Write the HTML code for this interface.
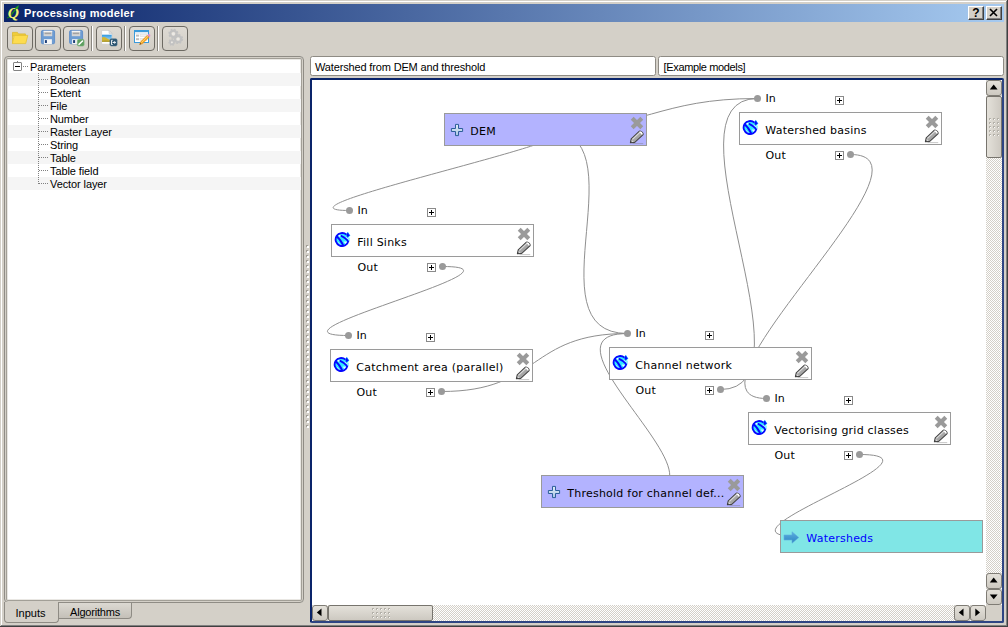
<!DOCTYPE html>
<html>
<head>
<meta charset="utf-8">
<title>Processing modeler</title>
<style>
html,body{margin:0;padding:0;}
body{width:1008px;height:627px;overflow:hidden;background:#d4d0c8;font-family:"Liberation Sans",sans-serif;font-size:11px;color:#000;}
.win{position:absolute;left:0;top:0;width:1008px;height:627px;background:#d4d0c8;overflow:hidden;}
.win div,.win span,.win i,.win b,.win svg{position:absolute;box-sizing:border-box;}
.fr-t{left:1px;top:1px;width:1005px;height:1px;background:#fff;}
.fr-l{left:1px;top:1px;width:1px;height:624px;background:#fff;}
.fr-r1{left:1006px;top:1px;width:1px;height:625px;background:#808080;}
.fr-r2{left:1007px;top:0;width:1px;height:627px;background:#404040;}
.fr-b1{left:1px;top:625px;width:1006px;height:1px;background:#808080;}
.fr-b2{left:0;top:626px;width:1008px;height:1px;background:#404040;}
.title{left:4px;top:4px;width:1000px;height:18px;background:linear-gradient(to right,#0a246a,#a6caf0);}
.qicon{left:2px;top:0;}
.ttext{left:20px;top:2px;letter-spacing:.3px;color:#fff;font-weight:bold;font-size:11px;line-height:14px;white-space:nowrap;}
.tbtn{top:2px;width:16px;height:14px;background:#d4d0c8;border:1px solid;border-color:#fff #404040 #404040 #fff;box-shadow:inset -1px -1px 0 #808080;}
.tbtn span{left:0.5px;top:0px;width:13px;text-align:center;font-weight:bold;font-size:12px;line-height:13px;}
.tbtn svg{left:-1px;top:-1px;}
.tb{top:26px;width:26px;height:25px;border:1px solid #6d6a63;border-radius:4px;background:linear-gradient(#dedad3,#d3cfc7);}
.tb svg{left:-1px;top:-1px;}
.sep{top:26px;width:2px;height:25px;border-left:1px solid #8a8780;border-right:1px solid #fff;}
.tbline{left:4px;top:56px;width:0;height:0;}
.tree{left:4px;top:56px;width:300px;height:547px;background:#fff;border:1px solid #8f8c85;border-radius:4px;box-shadow:inset 0 0 0 1px #d4d0c8, inset 0 0 0 2px #a29f97, inset 0 0 0 3px #e9e7e3;overflow:hidden;}
.row{left:3px;width:293px;height:13px;}
.row.alt{background:#f5f5f5;}
.rt{letter-spacing:-.1px;top:1px;line-height:13px;white-space:nowrap;font-size:11px;}
.exp{left:5px;top:2px;width:9px;height:9px;border:1px solid #848484;background:#fff;border-radius:1px;}
.exp:after{content:"";position:absolute;left:1px;top:3px;width:5px;height:1px;background:#000;}
.field{top:56px;height:20px;background:#fff;border:1px solid #8e8b84;border-radius:2.5px;line-height:19px;padding-top:1px;padding-left:4px;letter-spacing:-.15px;white-space:nowrap;font-size:11px;}
.f1{left:310px;width:346px;}
.f2{left:658px;width:346px;letter-spacing:-.36px;padding-left:4.6px;}
.canvas{left:310px;top:78px;width:694px;height:545px;background:#fff;border:2px solid;border-color:#0a246a #2e4583 #2e4583 #0a246a;border-radius:2px;}
.view{left:0;top:0;width:674px;height:525px;overflow:hidden;background:#fff;}
.links{left:0;top:0;}
.links path{fill:none;stroke:#8f8f8f;stroke-width:1;}
.node{width:203px;height:33px;font-family:"DejaVu Sans","Liberation Sans",sans-serif;font-size:11px;letter-spacing:.2px;}
.box{left:0;top:0;width:203px;height:33px;border:1px solid #9a9a9a;background:#fff;}
.param .box{background:#b3b3ff;}
.out .box{background:#80e6e6;}
.t{left:25.3px;top:11px;letter-spacing:.23px;line-height:14px;white-space:nowrap;}
.out .t{color:#0000ff;}
.lab{left:26.4px;line-height:14px;white-space:nowrap;}
.lab.in{top:-20px;}
.lab.out{top:36.5px;}
.pb{left:96px;width:9px;height:9px;border:1px solid #8a8a8a;background:#fff;}
.pb:before{content:"";position:absolute;left:1px;top:3px;width:5px;height:1px;background:#000;}
.pb:after{content:"";position:absolute;left:3px;top:1px;width:1px;height:5px;background:#000;}
.pin{top:-16px;}
.pout{top:39px;}
.dot{width:7px;height:7px;border-radius:50%;background:#9a9a9a;}
.din{left:15px;top:-17px;}
.dout{left:108px;top:39px;}
.ic{left:5px;top:9px;}
.is{left:2px;top:6px;}
.ia{left:2.4px;top:9.6px;}
.ix{left:185px;top:2px;}
.ip{left:184px;top:15px;}
.vsb{left:674px;top:0;width:16px;height:525px;background:#e9e7e3;background-image:conic-gradient(#fff 25%,#d4d0c8 0 50%,#fff 0 75%,#d4d0c8 0);background-size:2px 2px;}
.hsb{left:0;top:525px;width:674px;height:16px;background:#e9e7e3;background-image:conic-gradient(#fff 25%,#d4d0c8 0 50%,#fff 0 75%,#d4d0c8 0);background-size:2px 2px;}
.corner{left:674px;top:525px;width:16px;height:16px;background:#d4d0c8;}
.sbtn{width:16px;height:16px;border:1px solid #7f7c75;border-radius:3px;background:linear-gradient(#e4e1da,#cdc9c1);}
.hsb .sbtn{top:0;background:linear-gradient(#e4e1da,#cdc9c1);}
.vsb .sbtn{left:0;}
.vthumb{left:0;top:16px;width:16px;height:62px;border:1px solid #77746d;border-radius:2px;background:linear-gradient(to right,#e4e1da,#cdc9c1);}
.hthumb{left:16px;top:0;width:105px;height:16px;border:1px solid #77746d;border-radius:2px;background:linear-gradient(#e4e1da,#cdc9c1);}
.vthumb .grip{left:2px;top:21px;}
.hthumb .grip{left:43px;top:2px;}
.arw{left:-1px;top:-1px;}
.au{left:3.5px;top:4.5px;width:0;height:0;border:3.5px solid transparent;border-top:0;border-bottom:4px solid #000;}
.ad{left:3.5px;top:5.5px;width:0;height:0;border:3.5px solid transparent;border-bottom:0;border-top:4px solid #000;}
.al{left:4.5px;top:3.5px;width:0;height:0;border:3.5px solid transparent;border-left:0;border-right:4px solid #000;}
.ar{left:5.5px;top:3.5px;width:0;height:0;border:3.5px solid transparent;border-right:0;border-left:4px solid #000;}
.tab{font-size:11px;white-space:nowrap;text-align:center;}
.tab1{left:4px;top:602px;width:55px;height:21px;line-height:23px;padding-right:2px;border:1px solid #8e8b84;border-top:0;border-radius:0 0 4px 4px;background:#d4d0c8;}
.tab2{left:58px;top:603px;width:74px;height:16px;line-height:18px;letter-spacing:-.2px;border:1px solid #8e8b84;border-top:0;border-radius:0 0 4px 0;background:linear-gradient(#dcd9d2,#c4c0b8);}
.split{left:306px;top:245px;width:4px;height:185px;}
.split i{width:2px;height:185px;}
.split .sg{left:0;top:0;background:repeating-linear-gradient(to bottom,#a29f97 0,#a29f97 2px,transparent 2px,transparent 5px);}
.split .sw{left:1px;top:1px;height:184px;background:repeating-linear-gradient(to bottom,#fff 0,#fff 2px,transparent 2px,transparent 5px);}
.dl1{left:15px;top:6px;width:6px;height:1px;background:repeating-linear-gradient(to right,#808080 0,#808080 1px,transparent 1px,transparent 2px);}
.dl2{left:31px;top:6px;width:10px;height:1px;background:repeating-linear-gradient(to right,#808080 0,#808080 1px,transparent 1px,transparent 2px);}
.vdl{left:33px;top:16px;width:1px;height:111px;background:repeating-linear-gradient(to bottom,#808080 0,#808080 1px,transparent 1px,transparent 2px);}
.exp:before{content:"";position:absolute;left:3px;top:-2px;width:1px;height:1px;background:#808080;}
</style>
</head>

<body>
<div class="win">
<div class="fr-t"></div><div class="fr-l"></div><div class="fr-r1"></div><div class="fr-r2"></div><div class="fr-b1"></div><div class="fr-b2"></div>
<div class="title"><svg class="qicon" width="16" height="18" viewBox="0 0 16 18"><path d="M1 13.9 L3.6 13 L10.8 3.6" stroke="#1c7a1c" stroke-width="1.1" fill="none"/><text x="1.8" y="13.8" font-family="Liberation Serif, serif" font-weight="bold" font-style="italic" font-size="15.5" fill="#f2f274">Q</text><path d="M5.2 10.6 L10.8 3.6" stroke="#1c8a1c" stroke-width="1.2" fill="none"/><path d="M9.2 3.8 L12.8 1 L12 5 Z" fill="#22a022"/></svg><span class="ttext">Processing modeler</span>
<div class="tbtn" style="left:964px"><span>?</span></div><div class="tbtn" style="left:982px"><svg width="16" height="14" viewBox="0 0 16 14"><path d="M4 3 L11 10 M11 3 L4 10" stroke="#000" stroke-width="1.6"/></svg></div>
</div>
<div class="tb" style="left:7px"><svg width="26" height="25" viewBox="0 0 26 25"><path d="M5.5 17.5 V6.4 H10.4 L11.4 7.9 H18.4 V10 H5.5" fill="#f0cd3c" stroke="#dcb930" stroke-width=".8"/><path d="M7.2 9.4 H20.8 L18.7 17.6 H5.4 Z" fill="#fddc4e" stroke="#e3c136" stroke-width=".8" stroke-linejoin="round"/></svg></div>
<div class="tb" style="left:35px"><svg width="26" height="25" viewBox="0 0 26 25"><rect x="6.4" y="4.4" width="13.2" height="13.4" rx="1.4" fill="#6e9dd3" stroke="#5b8bc7" stroke-width=".9"/><rect x="8.6" y="4.9" width="8.6" height="5.3" fill="#d6d6d6"/><rect x="8.6" y="4.9" width="8.6" height="1.2" fill="#f4f4f4"/><rect x="9.6" y="6.6" width="6.6" height="1.6" fill="#a3a3a3"/><rect x="8.9" y="13.2" width="8" height="4.8" fill="#f6f6f6"/><rect x="9.9" y="14.1" width="2" height="2.9" fill="#1d3f78"/><rect x="8.2" y="18" width="9.6" height=".8" fill="#c2c8d2" opacity=".7"/></svg></div>
<div class="tb" style="left:63px"><svg width="26" height="25" viewBox="0 0 26 25"><rect x="6.6" y="4.4" width="13" height="13.4" rx="1.4" fill="#6e9dd3" stroke="#5b8bc7" stroke-width=".9"/><rect x="8.8" y="4.9" width="8.4" height="5.3" fill="#d6d6d6"/><rect x="8.8" y="4.9" width="8.4" height="1.2" fill="#f4f4f4"/><rect x="9.8" y="6.6" width="6.4" height="1.6" fill="#a3a3a3"/><rect x="9.1" y="13.2" width="7.8" height="4.8" fill="#f6f6f6"/><rect x="10.1" y="14.1" width="2" height="2.9" fill="#1d3f78"/><rect x="14.3" y="13.3" width="6.8" height="6.8" rx="1.5" fill="#5d9f5f" stroke="#7fb581" stroke-width=".6"/><path d="M16 18.4 L19.5 15" stroke="#fff" stroke-width="1.5" stroke-linecap="round"/></svg></div>
<div class="sep" style="left:91px"></div>
<div class="tb" style="left:96px"><svg width="26" height="25" viewBox="0 0 26 25"><defs><linearGradient id="sky" x1="0" y1="0" x2="0" y2="1"><stop offset="0" stop-color="#2f97df"/><stop offset="1" stop-color="#c9e8f8"/></linearGradient></defs><path d="M5.6 4.4 H13 L16 7.4 V18.2 H5.6 Z" fill="#fdfdfd" stroke="#c9c9c9" stroke-width=".7"/><path d="M13 4.4 V7.4 H16 Z" fill="#e2e2e2" stroke="#bdbdbd" stroke-width=".5"/><rect x="6" y="8.7" width="9.7" height="7" fill="url(#sky)"/><path d="M6 15.7 V11.6 Q8.2 10.4 10.4 12 Q13 14 15.7 14.2 V15.7 Z" fill="#d2b634"/><path d="M6 15.7 V14.8 Q10 14 15.7 15.2 V15.7 Z" fill="#a8952c"/><rect x="13.9" y="12.8" width="7.2" height="7.2" rx="1.4" fill="#2c5571" stroke="#4d728b" stroke-width=".5"/><path d="M16.7 14.3 H15.5 V18.5 H16.7" fill="none" stroke="#fff" stroke-width=".9"/><path d="M16.6 16.4 H18.6" stroke="#fff" stroke-width="1.1"/><path d="M18.3 14.8 L20.1 16.4 L18.3 18 Z" fill="#fff"/></svg></div>
<div class="sep" style="left:124px"></div>
<div class="tb" style="left:129px"><svg width="26" height="25" viewBox="0 0 26 25"><rect x="5.5" y="4.5" width="14" height="12" fill="#fff" stroke="#3b9bdb" stroke-width="1"/><rect x="5" y="4" width="15" height="2.2" fill="#3b9bdb"/><rect x="6" y="6.2" width="13" height="1.6" fill="#dfeaf3"/><rect x="7" y="8.6" width="3" height="2" fill="#bdbdbd"/><rect x="11" y="8.6" width="7" height="2" fill="#f0f0f0" stroke="#d0d0d0" stroke-width=".4"/><rect x="7" y="12.2" width="3" height="2" fill="#bdbdbd"/><rect x="11" y="12.2" width="7" height="2" fill="#f0f0f0" stroke="#d0d0d0" stroke-width=".4"/><path d="M10.6 18.6 L11.6 15.8 L18.4 9.2 L20.3 11.1 L13.4 17.8 Z" fill="#f6a623" stroke="#d98a12" stroke-width=".5"/><path d="M12.4 16.6 L19 10.2" stroke="#ffd27a" stroke-width=".9"/><path d="M18.4 9.2 L19.4 8.3 Q20.4 7.8 21 8.6 Q21.7 9.4 21.2 10.2 L20.3 11.1 Z" fill="#e78fd0"/><path d="M10.6 18.6 L11.2 16.9 L12.3 18 Z" fill="#4a3a2a"/></svg></div>
<div class="sep" style="left:157px"></div>
<div class="tb" style="left:162px"><svg width="26" height="25" viewBox="0 0 26 25"><g fill="none" stroke="#c2c2c2"><circle cx="11.4" cy="7.8" r="3.2" stroke-width="2.2"/><circle cx="11.4" cy="7.8" r="4.3" stroke-width="1.6" stroke-dasharray="1.7 1.68"/><circle cx="16.1" cy="13" r="3.2" stroke-width="2.2"/><circle cx="16.1" cy="13" r="4.3" stroke-width="1.6" stroke-dasharray="1.7 1.68"/><circle cx="9.9" cy="16.3" r="2" stroke-width="1.8"/><circle cx="9.9" cy="16.3" r="2.9" stroke-width="1.3" stroke-dasharray="1.3 1.3"/></g><g fill="#eceae6"><circle cx="11.4" cy="7.8" r="1.6"/><circle cx="16.1" cy="13" r="1.6"/><circle cx="9.9" cy="16.3" r=".9"/></g></svg></div>

<div class="tbline"></div>
<div class="tree">
<div class="row r0" style="top:3px"><i class="exp"></i><span class="dl1"></span><span class="rt" style="left:22px">Parameters</span></div>
<div class="row alt" style="top:16px"><span class="dl2"></span><span class="rt" style="left:42px">Boolean</span></div>
<div class="row " style="top:29px"><span class="dl2"></span><span class="rt" style="left:42px">Extent</span></div>
<div class="row alt" style="top:42px"><span class="dl2"></span><span class="rt" style="left:42px">File</span></div>
<div class="row " style="top:55px"><span class="dl2"></span><span class="rt" style="left:42px">Number</span></div>
<div class="row alt" style="top:68px"><span class="dl2"></span><span class="rt" style="left:42px">Raster Layer</span></div>
<div class="row " style="top:81px"><span class="dl2"></span><span class="rt" style="left:42px">String</span></div>
<div class="row alt" style="top:94px"><span class="dl2"></span><span class="rt" style="left:42px">Table</span></div>
<div class="row " style="top:107px"><span class="dl2"></span><span class="rt" style="left:42px">Table field</span></div>
<div class="row alt" style="top:120px"><span class="dl2"></span><span class="rt" style="left:42px">Vector layer</span></div>

<span class="vdl"></span>
</div>
<div class="tab tab1">Inputs</div><div class="tab tab2">Algorithms</div>
<div class="split"><i class="sg"></i><i class="sw"></i></div>
<div class="field f1">Watershed from DEM and threshold</div>
<div class="field f2">[Example models]</div>
<div class="canvas">
<div class="view">
<svg class="links" width="690" height="541" viewBox="312 80 690 541"><path d="M545.5 129.5 C645.5 129.5 249.5 210.5 349.5 210.5"/><path d="M545.5 129.5 C645.5 129.5 527.5 333.5 627.5 333.5"/><path d="M545.5 129.5 C645.5 129.5 657.5 98.5 757.5 98.5"/><path d="M442.5 266.5 C542.5 266.5 248.5 335.5 348.5 335.5"/><path d="M441.5 391.5 C541.5 391.5 527.5 333.5 627.5 333.5"/><path d="M642.5 491.5 C742.5 491.5 527.5 333.5 627.5 333.5"/><path d="M720.5 389.5 C820.5 389.5 657.5 98.5 757.5 98.5"/><path d="M850.5 154.5 C950.5 154.5 666.5 398.5 766.5 398.5"/><path d="M859.5 454.5 C959.5 454.5 698.5 536.5 798.5 536.5"/></svg>
<div class="node param" style="left:132px;top:33px"><div class="box"><svg class="ic" width="14" height="14" viewBox="0 0 14 14"><defs><linearGradient id="pg0" x1="0" y1="0" x2="0" y2="1"><stop offset="0" stop-color="#e4eef8"/><stop offset="1" stop-color="#a9c6e3"/></linearGradient></defs><path d="M5.5 1.4 H8.5 V5.5 H12.6 V8.5 H8.5 V12.6 H5.5 V8.5 H1.4 V5.5 H5.5 Z" fill="url(#pg0)" stroke="#2d5f9a" stroke-width="1" stroke-linejoin="round"/></svg><span class="t">DEM</span><svg class="ix" width="14" height="14" viewBox="0 0 14 14"><path d="M2.2 2.2 L11.8 11.8 M11.8 2.2 L2.2 11.8" stroke="#9a9a9a" stroke-width="4.1" fill="none"/></svg><svg class="ip" width="16" height="16" viewBox="0 0 16 16"><path d="M3.6 14.6 H14.2" stroke="#777" stroke-width="1" opacity=".4"/><path d="M1.4 13.8 L2.2 9.8 L10.4 2.2 C11.5 1.1 15 4.8 13.9 5.9 L5.7 13.4 Z" fill="#a6a6a6" stroke="#464646" stroke-width="1.1" stroke-linejoin="round"/><path d="M3.4 10.3 L10.9 3.4" stroke="#dedede" stroke-width="1.1"/><path d="M10.6 3 Q12.6 3 13.1 5.3" stroke="#fff" stroke-width="1.6" fill="none"/><path d="M2.7 10.9 L4.7 12.8 L2.3 13.3 Z" fill="#dcdcdc"/><path d="M1.4 13.8 L1.8 12.1 L3.1 13.4 Z" fill="#333"/></svg></div></div>
<div class="node alg" style="left:19px;top:144px"><span class="lab in">In</span><i class="pb pin"></i><b class="dot din"></b><div class="box"><svg class="is" width="18" height="18" viewBox="0 0 18 18"><defs><clipPath id="sg1"><circle cx="8.1" cy="8.5" r="6.4"/></clipPath></defs><circle cx="8.1" cy="8.5" r="7" fill="#30e8ff"/><path d="M13.4 5 L16 7 L15.4 10.4 L12.6 8.4 Z" fill="#8ff4ff"/><g clip-path="url(#sg1)"><path d="M3.4 4.4 L6.2 3.4 L6.6 6.2 Z M9.6 10.6 L13.2 10.8 L12 13.6 Z M3.6 10.4 L6.6 13.8 L5.2 14.4 Z M10.6 5.2 L13.4 7 L13 8.4 Z" fill="#fff" opacity=".9"/><g stroke="#0606ff" stroke-width="1.8" fill="none"><path d="M2 4.8 Q6.6 8.4 9.8 15.6"/><path d="M6.8 4.6 Q10.8 6.4 14.6 10.4"/></g></g><path d="M14.5 9.7 A6.5 6.5 0 1 1 12.5 3.7" fill="none" stroke="#0606ff" stroke-width="1.8"/><path d="M13.8 0.8 L16.4 4.7 L13.3 7.1 L11.9 3.2 Z" fill="#30e8ff"/><path d="M13.7 1.7 L15.6 4.5 L13.4 6.1 L12.5 3.4 Z" fill="#0606ff" stroke="#0606ff" stroke-width=".5" stroke-linejoin="round"/></svg><span class="t">Fill Sinks</span><svg class="ix" width="14" height="14" viewBox="0 0 14 14"><path d="M2.2 2.2 L11.8 11.8 M11.8 2.2 L2.2 11.8" stroke="#9a9a9a" stroke-width="4.1" fill="none"/></svg><svg class="ip" width="16" height="16" viewBox="0 0 16 16"><path d="M3.6 14.6 H14.2" stroke="#777" stroke-width="1" opacity=".4"/><path d="M1.4 13.8 L2.2 9.8 L10.4 2.2 C11.5 1.1 15 4.8 13.9 5.9 L5.7 13.4 Z" fill="#a6a6a6" stroke="#464646" stroke-width="1.1" stroke-linejoin="round"/><path d="M3.4 10.3 L10.9 3.4" stroke="#dedede" stroke-width="1.1"/><path d="M10.6 3 Q12.6 3 13.1 5.3" stroke="#fff" stroke-width="1.6" fill="none"/><path d="M2.7 10.9 L4.7 12.8 L2.3 13.3 Z" fill="#dcdcdc"/><path d="M1.4 13.8 L1.8 12.1 L3.1 13.4 Z" fill="#333"/></svg></div><span class="lab out">Out</span><i class="pb pout"></i><b class="dot dout"></b></div>
<div class="node alg" style="left:18px;top:269px"><span class="lab in">In</span><i class="pb pin"></i><b class="dot din"></b><div class="box"><svg class="is" width="18" height="18" viewBox="0 0 18 18"><defs><clipPath id="sg2"><circle cx="8.1" cy="8.5" r="6.4"/></clipPath></defs><circle cx="8.1" cy="8.5" r="7" fill="#30e8ff"/><path d="M13.4 5 L16 7 L15.4 10.4 L12.6 8.4 Z" fill="#8ff4ff"/><g clip-path="url(#sg2)"><path d="M3.4 4.4 L6.2 3.4 L6.6 6.2 Z M9.6 10.6 L13.2 10.8 L12 13.6 Z M3.6 10.4 L6.6 13.8 L5.2 14.4 Z M10.6 5.2 L13.4 7 L13 8.4 Z" fill="#fff" opacity=".9"/><g stroke="#0606ff" stroke-width="1.8" fill="none"><path d="M2 4.8 Q6.6 8.4 9.8 15.6"/><path d="M6.8 4.6 Q10.8 6.4 14.6 10.4"/></g></g><path d="M14.5 9.7 A6.5 6.5 0 1 1 12.5 3.7" fill="none" stroke="#0606ff" stroke-width="1.8"/><path d="M13.8 0.8 L16.4 4.7 L13.3 7.1 L11.9 3.2 Z" fill="#30e8ff"/><path d="M13.7 1.7 L15.6 4.5 L13.4 6.1 L12.5 3.4 Z" fill="#0606ff" stroke="#0606ff" stroke-width=".5" stroke-linejoin="round"/></svg><span class="t">Catchment area (parallel)</span><svg class="ix" width="14" height="14" viewBox="0 0 14 14"><path d="M2.2 2.2 L11.8 11.8 M11.8 2.2 L2.2 11.8" stroke="#9a9a9a" stroke-width="4.1" fill="none"/></svg><svg class="ip" width="16" height="16" viewBox="0 0 16 16"><path d="M3.6 14.6 H14.2" stroke="#777" stroke-width="1" opacity=".4"/><path d="M1.4 13.8 L2.2 9.8 L10.4 2.2 C11.5 1.1 15 4.8 13.9 5.9 L5.7 13.4 Z" fill="#a6a6a6" stroke="#464646" stroke-width="1.1" stroke-linejoin="round"/><path d="M3.4 10.3 L10.9 3.4" stroke="#dedede" stroke-width="1.1"/><path d="M10.6 3 Q12.6 3 13.1 5.3" stroke="#fff" stroke-width="1.6" fill="none"/><path d="M2.7 10.9 L4.7 12.8 L2.3 13.3 Z" fill="#dcdcdc"/><path d="M1.4 13.8 L1.8 12.1 L3.1 13.4 Z" fill="#333"/></svg></div><span class="lab out">Out</span><i class="pb pout"></i><b class="dot dout"></b></div>
<div class="node alg" style="left:297px;top:267px"><span class="lab in">In</span><i class="pb pin"></i><b class="dot din"></b><div class="box"><svg class="is" width="18" height="18" viewBox="0 0 18 18"><defs><clipPath id="sg3"><circle cx="8.1" cy="8.5" r="6.4"/></clipPath></defs><circle cx="8.1" cy="8.5" r="7" fill="#30e8ff"/><path d="M13.4 5 L16 7 L15.4 10.4 L12.6 8.4 Z" fill="#8ff4ff"/><g clip-path="url(#sg3)"><path d="M3.4 4.4 L6.2 3.4 L6.6 6.2 Z M9.6 10.6 L13.2 10.8 L12 13.6 Z M3.6 10.4 L6.6 13.8 L5.2 14.4 Z M10.6 5.2 L13.4 7 L13 8.4 Z" fill="#fff" opacity=".9"/><g stroke="#0606ff" stroke-width="1.8" fill="none"><path d="M2 4.8 Q6.6 8.4 9.8 15.6"/><path d="M6.8 4.6 Q10.8 6.4 14.6 10.4"/></g></g><path d="M14.5 9.7 A6.5 6.5 0 1 1 12.5 3.7" fill="none" stroke="#0606ff" stroke-width="1.8"/><path d="M13.8 0.8 L16.4 4.7 L13.3 7.1 L11.9 3.2 Z" fill="#30e8ff"/><path d="M13.7 1.7 L15.6 4.5 L13.4 6.1 L12.5 3.4 Z" fill="#0606ff" stroke="#0606ff" stroke-width=".5" stroke-linejoin="round"/></svg><span class="t">Channel network</span><svg class="ix" width="14" height="14" viewBox="0 0 14 14"><path d="M2.2 2.2 L11.8 11.8 M11.8 2.2 L2.2 11.8" stroke="#9a9a9a" stroke-width="4.1" fill="none"/></svg><svg class="ip" width="16" height="16" viewBox="0 0 16 16"><path d="M3.6 14.6 H14.2" stroke="#777" stroke-width="1" opacity=".4"/><path d="M1.4 13.8 L2.2 9.8 L10.4 2.2 C11.5 1.1 15 4.8 13.9 5.9 L5.7 13.4 Z" fill="#a6a6a6" stroke="#464646" stroke-width="1.1" stroke-linejoin="round"/><path d="M3.4 10.3 L10.9 3.4" stroke="#dedede" stroke-width="1.1"/><path d="M10.6 3 Q12.6 3 13.1 5.3" stroke="#fff" stroke-width="1.6" fill="none"/><path d="M2.7 10.9 L4.7 12.8 L2.3 13.3 Z" fill="#dcdcdc"/><path d="M1.4 13.8 L1.8 12.1 L3.1 13.4 Z" fill="#333"/></svg></div><span class="lab out">Out</span><i class="pb pout"></i><b class="dot dout"></b></div>
<div class="node alg" style="left:427px;top:32px"><span class="lab in">In</span><i class="pb pin"></i><b class="dot din"></b><div class="box"><svg class="is" width="18" height="18" viewBox="0 0 18 18"><defs><clipPath id="sg4"><circle cx="8.1" cy="8.5" r="6.4"/></clipPath></defs><circle cx="8.1" cy="8.5" r="7" fill="#30e8ff"/><path d="M13.4 5 L16 7 L15.4 10.4 L12.6 8.4 Z" fill="#8ff4ff"/><g clip-path="url(#sg4)"><path d="M3.4 4.4 L6.2 3.4 L6.6 6.2 Z M9.6 10.6 L13.2 10.8 L12 13.6 Z M3.6 10.4 L6.6 13.8 L5.2 14.4 Z M10.6 5.2 L13.4 7 L13 8.4 Z" fill="#fff" opacity=".9"/><g stroke="#0606ff" stroke-width="1.8" fill="none"><path d="M2 4.8 Q6.6 8.4 9.8 15.6"/><path d="M6.8 4.6 Q10.8 6.4 14.6 10.4"/></g></g><path d="M14.5 9.7 A6.5 6.5 0 1 1 12.5 3.7" fill="none" stroke="#0606ff" stroke-width="1.8"/><path d="M13.8 0.8 L16.4 4.7 L13.3 7.1 L11.9 3.2 Z" fill="#30e8ff"/><path d="M13.7 1.7 L15.6 4.5 L13.4 6.1 L12.5 3.4 Z" fill="#0606ff" stroke="#0606ff" stroke-width=".5" stroke-linejoin="round"/></svg><span class="t">Watershed basins</span><svg class="ix" width="14" height="14" viewBox="0 0 14 14"><path d="M2.2 2.2 L11.8 11.8 M11.8 2.2 L2.2 11.8" stroke="#9a9a9a" stroke-width="4.1" fill="none"/></svg><svg class="ip" width="16" height="16" viewBox="0 0 16 16"><path d="M3.6 14.6 H14.2" stroke="#777" stroke-width="1" opacity=".4"/><path d="M1.4 13.8 L2.2 9.8 L10.4 2.2 C11.5 1.1 15 4.8 13.9 5.9 L5.7 13.4 Z" fill="#a6a6a6" stroke="#464646" stroke-width="1.1" stroke-linejoin="round"/><path d="M3.4 10.3 L10.9 3.4" stroke="#dedede" stroke-width="1.1"/><path d="M10.6 3 Q12.6 3 13.1 5.3" stroke="#fff" stroke-width="1.6" fill="none"/><path d="M2.7 10.9 L4.7 12.8 L2.3 13.3 Z" fill="#dcdcdc"/><path d="M1.4 13.8 L1.8 12.1 L3.1 13.4 Z" fill="#333"/></svg></div><span class="lab out">Out</span><i class="pb pout"></i><b class="dot dout"></b></div>
<div class="node alg" style="left:436px;top:332px"><span class="lab in">In</span><i class="pb pin"></i><b class="dot din"></b><div class="box"><svg class="is" width="18" height="18" viewBox="0 0 18 18"><defs><clipPath id="sg5"><circle cx="8.1" cy="8.5" r="6.4"/></clipPath></defs><circle cx="8.1" cy="8.5" r="7" fill="#30e8ff"/><path d="M13.4 5 L16 7 L15.4 10.4 L12.6 8.4 Z" fill="#8ff4ff"/><g clip-path="url(#sg5)"><path d="M3.4 4.4 L6.2 3.4 L6.6 6.2 Z M9.6 10.6 L13.2 10.8 L12 13.6 Z M3.6 10.4 L6.6 13.8 L5.2 14.4 Z M10.6 5.2 L13.4 7 L13 8.4 Z" fill="#fff" opacity=".9"/><g stroke="#0606ff" stroke-width="1.8" fill="none"><path d="M2 4.8 Q6.6 8.4 9.8 15.6"/><path d="M6.8 4.6 Q10.8 6.4 14.6 10.4"/></g></g><path d="M14.5 9.7 A6.5 6.5 0 1 1 12.5 3.7" fill="none" stroke="#0606ff" stroke-width="1.8"/><path d="M13.8 0.8 L16.4 4.7 L13.3 7.1 L11.9 3.2 Z" fill="#30e8ff"/><path d="M13.7 1.7 L15.6 4.5 L13.4 6.1 L12.5 3.4 Z" fill="#0606ff" stroke="#0606ff" stroke-width=".5" stroke-linejoin="round"/></svg><span class="t">Vectorising grid classes</span><svg class="ix" width="14" height="14" viewBox="0 0 14 14"><path d="M2.2 2.2 L11.8 11.8 M11.8 2.2 L2.2 11.8" stroke="#9a9a9a" stroke-width="4.1" fill="none"/></svg><svg class="ip" width="16" height="16" viewBox="0 0 16 16"><path d="M3.6 14.6 H14.2" stroke="#777" stroke-width="1" opacity=".4"/><path d="M1.4 13.8 L2.2 9.8 L10.4 2.2 C11.5 1.1 15 4.8 13.9 5.9 L5.7 13.4 Z" fill="#a6a6a6" stroke="#464646" stroke-width="1.1" stroke-linejoin="round"/><path d="M3.4 10.3 L10.9 3.4" stroke="#dedede" stroke-width="1.1"/><path d="M10.6 3 Q12.6 3 13.1 5.3" stroke="#fff" stroke-width="1.6" fill="none"/><path d="M2.7 10.9 L4.7 12.8 L2.3 13.3 Z" fill="#dcdcdc"/><path d="M1.4 13.8 L1.8 12.1 L3.1 13.4 Z" fill="#333"/></svg></div><span class="lab out">Out</span><i class="pb pout"></i><b class="dot dout"></b></div>
<div class="node param" style="left:229px;top:395px"><div class="box"><svg class="ic" width="14" height="14" viewBox="0 0 14 14"><defs><linearGradient id="pg6" x1="0" y1="0" x2="0" y2="1"><stop offset="0" stop-color="#e4eef8"/><stop offset="1" stop-color="#a9c6e3"/></linearGradient></defs><path d="M5.5 1.4 H8.5 V5.5 H12.6 V8.5 H8.5 V12.6 H5.5 V8.5 H1.4 V5.5 H5.5 Z" fill="url(#pg6)" stroke="#2d5f9a" stroke-width="1" stroke-linejoin="round"/></svg><span class="t">Threshold for channel def...</span><svg class="ix" width="14" height="14" viewBox="0 0 14 14"><path d="M2.2 2.2 L11.8 11.8 M11.8 2.2 L2.2 11.8" stroke="#9a9a9a" stroke-width="4.1" fill="none"/></svg><svg class="ip" width="16" height="16" viewBox="0 0 16 16"><path d="M3.6 14.6 H14.2" stroke="#777" stroke-width="1" opacity=".4"/><path d="M1.4 13.8 L2.2 9.8 L10.4 2.2 C11.5 1.1 15 4.8 13.9 5.9 L5.7 13.4 Z" fill="#a6a6a6" stroke="#464646" stroke-width="1.1" stroke-linejoin="round"/><path d="M3.4 10.3 L10.9 3.4" stroke="#dedede" stroke-width="1.1"/><path d="M10.6 3 Q12.6 3 13.1 5.3" stroke="#fff" stroke-width="1.6" fill="none"/><path d="M2.7 10.9 L4.7 12.8 L2.3 13.3 Z" fill="#dcdcdc"/><path d="M1.4 13.8 L1.8 12.1 L3.1 13.4 Z" fill="#333"/></svg></div></div>
<div class="node out" style="left:468px;top:440px"><div class="box"><svg class="ia" width="17" height="13" viewBox="0 0 17 13"><defs><linearGradient id="agr" x1="0" y1="0" x2="0" y2="1"><stop offset="0" stop-color="#5aaee0"/><stop offset="1" stop-color="#2f86c2"/></linearGradient></defs><path d="M1 4 H9 V0.8 L15.8 6.5 L9 12.2 V9 H1 Z" fill="url(#agr)" stroke="#5fb0dd" stroke-width=".6" stroke-linejoin="round"/></svg><span class="t">Watersheds</span></div></div>
</div>
<div class="vsb"><div class="sbtn" style="top:0"><svg class="arw" width="16" height="16" viewBox="0 0 16 16"><path d="M7.7 4.4 L11.6 9.4 H3.8 Z" fill="#000"/></svg></div><div class="vthumb"><svg class="grip" width="12" height="20" viewBox="0 0 12 20"><rect x="0" y="0" width="2" height="2" fill="#b3b0a8"/><rect x="1" y="1" width="1" height="1" fill="#fbfaf8"/><rect x="0" y="4" width="2" height="2" fill="#b3b0a8"/><rect x="1" y="5" width="1" height="1" fill="#fbfaf8"/><rect x="0" y="8" width="2" height="2" fill="#b3b0a8"/><rect x="1" y="9" width="1" height="1" fill="#fbfaf8"/><rect x="0" y="12" width="2" height="2" fill="#b3b0a8"/><rect x="1" y="13" width="1" height="1" fill="#fbfaf8"/><rect x="0" y="16" width="2" height="2" fill="#b3b0a8"/><rect x="1" y="17" width="1" height="1" fill="#fbfaf8"/><rect x="4" y="0" width="2" height="2" fill="#b3b0a8"/><rect x="5" y="1" width="1" height="1" fill="#fbfaf8"/><rect x="4" y="4" width="2" height="2" fill="#b3b0a8"/><rect x="5" y="5" width="1" height="1" fill="#fbfaf8"/><rect x="4" y="8" width="2" height="2" fill="#b3b0a8"/><rect x="5" y="9" width="1" height="1" fill="#fbfaf8"/><rect x="4" y="12" width="2" height="2" fill="#b3b0a8"/><rect x="5" y="13" width="1" height="1" fill="#fbfaf8"/><rect x="4" y="16" width="2" height="2" fill="#b3b0a8"/><rect x="5" y="17" width="1" height="1" fill="#fbfaf8"/><rect x="8" y="0" width="2" height="2" fill="#b3b0a8"/><rect x="9" y="1" width="1" height="1" fill="#fbfaf8"/><rect x="8" y="4" width="2" height="2" fill="#b3b0a8"/><rect x="9" y="5" width="1" height="1" fill="#fbfaf8"/><rect x="8" y="8" width="2" height="2" fill="#b3b0a8"/><rect x="9" y="9" width="1" height="1" fill="#fbfaf8"/><rect x="8" y="12" width="2" height="2" fill="#b3b0a8"/><rect x="9" y="13" width="1" height="1" fill="#fbfaf8"/><rect x="8" y="16" width="2" height="2" fill="#b3b0a8"/><rect x="9" y="17" width="1" height="1" fill="#fbfaf8"/></svg></div><div class="sbtn" style="top:493px"><svg class="arw" width="16" height="16" viewBox="0 0 16 16"><path d="M7.7 4.4 L11.6 9.4 H3.8 Z" fill="#000"/></svg></div><div class="sbtn" style="top:509px"><svg class="arw" width="16" height="16" viewBox="0 0 16 16"><path d="M7.7 10.2 L11.6 5.4 H3.8 Z" fill="#000"/></svg></div></div>
<div class="hsb"><div class="sbtn" style="left:0"><svg class="arw" width="16" height="16" viewBox="0 0 16 16"><path d="M4.8 7.4 L9.5 3.5 V11.3 Z" fill="#000"/></svg></div><div class="hthumb"><svg class="grip" width="20" height="12" viewBox="0 0 20 12"><rect x="0" y="0" width="2" height="2" fill="#b3b0a8"/><rect x="1" y="1" width="1" height="1" fill="#fbfaf8"/><rect x="0" y="4" width="2" height="2" fill="#b3b0a8"/><rect x="1" y="5" width="1" height="1" fill="#fbfaf8"/><rect x="0" y="8" width="2" height="2" fill="#b3b0a8"/><rect x="1" y="9" width="1" height="1" fill="#fbfaf8"/><rect x="4" y="0" width="2" height="2" fill="#b3b0a8"/><rect x="5" y="1" width="1" height="1" fill="#fbfaf8"/><rect x="4" y="4" width="2" height="2" fill="#b3b0a8"/><rect x="5" y="5" width="1" height="1" fill="#fbfaf8"/><rect x="4" y="8" width="2" height="2" fill="#b3b0a8"/><rect x="5" y="9" width="1" height="1" fill="#fbfaf8"/><rect x="8" y="0" width="2" height="2" fill="#b3b0a8"/><rect x="9" y="1" width="1" height="1" fill="#fbfaf8"/><rect x="8" y="4" width="2" height="2" fill="#b3b0a8"/><rect x="9" y="5" width="1" height="1" fill="#fbfaf8"/><rect x="8" y="8" width="2" height="2" fill="#b3b0a8"/><rect x="9" y="9" width="1" height="1" fill="#fbfaf8"/><rect x="12" y="0" width="2" height="2" fill="#b3b0a8"/><rect x="13" y="1" width="1" height="1" fill="#fbfaf8"/><rect x="12" y="4" width="2" height="2" fill="#b3b0a8"/><rect x="13" y="5" width="1" height="1" fill="#fbfaf8"/><rect x="12" y="8" width="2" height="2" fill="#b3b0a8"/><rect x="13" y="9" width="1" height="1" fill="#fbfaf8"/><rect x="16" y="0" width="2" height="2" fill="#b3b0a8"/><rect x="17" y="1" width="1" height="1" fill="#fbfaf8"/><rect x="16" y="4" width="2" height="2" fill="#b3b0a8"/><rect x="17" y="5" width="1" height="1" fill="#fbfaf8"/><rect x="16" y="8" width="2" height="2" fill="#b3b0a8"/><rect x="17" y="9" width="1" height="1" fill="#fbfaf8"/></svg></div><div class="sbtn" style="left:642px"><svg class="arw" width="16" height="16" viewBox="0 0 16 16"><path d="M4.8 7.4 L9.5 3.5 V11.3 Z" fill="#000"/></svg></div><div class="sbtn" style="left:658px"><svg class="arw" width="16" height="16" viewBox="0 0 16 16"><path d="M10 7.4 L5.3 3.5 V11.3 Z" fill="#000"/></svg></div></div>
<div class="corner"></div>
</div>
</div>
</body>
</html>
